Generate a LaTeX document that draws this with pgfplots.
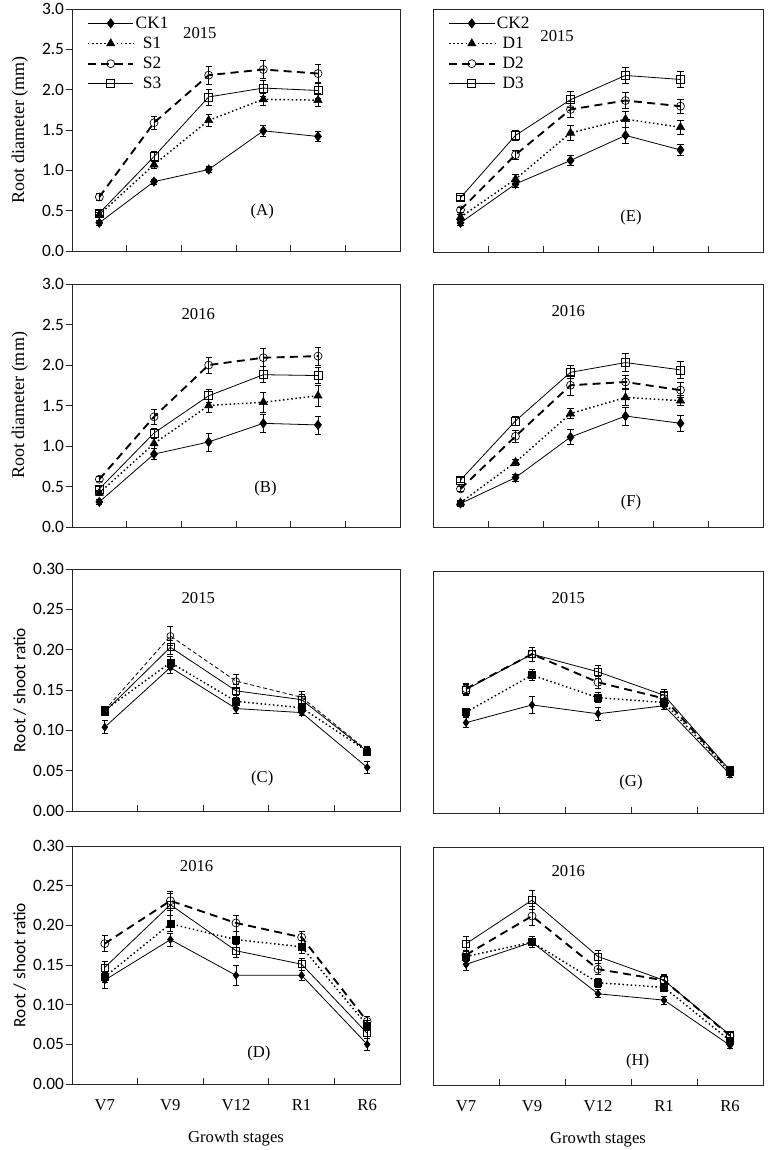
\documentclass[border=0pt]{standalone}
\usepackage{pgfplots}
\pgfplotsset{compat=1.18}
\usepackage{pgfplotstable}
\usepackage{fontspec}
\setmainfont{Liberation Serif}
\newfontfamily\calfont{Carlito}

\pgfplotstableread{
x ck eck s1 es1 s2 es2 s3 es3
1 0.35 0.03 0.45 0.03 0.67 0.04 0.47 0.03
2 0.86 0.03 1.07 0.04 1.59 0.08 1.17 0.06
3 1.01 0.04 1.62 0.08 2.18 0.11 1.91 0.10
4 1.49 0.07 1.88 0.08 2.25 0.11 2.02 0.10
5 1.42 0.06 1.87 0.08 2.20 0.12 1.99 0.10
}\tabA
\pgfplotstableread{
x ck eck s1 es1 s2 es2 s3 es3
1 0.36 0.03 0.43 0.03 0.52 0.03 0.67 0.03
2 0.84 0.04 0.90 0.06 1.20 0.06 1.44 0.06
3 1.13 0.06 1.47 0.09 1.76 0.10 1.88 0.10
4 1.44 0.10 1.64 0.10 1.87 0.10 2.18 0.10
5 1.26 0.07 1.54 0.09 1.80 0.09 2.13 0.10
}\tabE
\pgfplotstableread{
x ck eck s1 es1 s2 es2 s3 es3
1 0.31 0.03 0.42 0.03 0.59 0.03 0.47 0.03
2 0.90 0.07 1.03 0.06 1.36 0.09 1.16 0.06
3 1.05 0.11 1.50 0.08 2.00 0.10 1.62 0.08
4 1.28 0.11 1.54 0.12 2.09 0.11 1.88 0.10
5 1.26 0.11 1.62 0.13 2.11 0.11 1.87 0.10
}\tabB
\pgfplotstableread{
x ck eck s1 es1 s2 es2 s3 es3
1 0.29 0.03 0.30 0.03 0.47 0.03 0.58 0.03
2 0.61 0.04 0.80 0.04 1.12 0.07 1.31 0.06
3 1.11 0.09 1.40 0.06 1.75 0.12 1.91 0.08
4 1.37 0.11 1.60 0.10 1.79 0.08 2.03 0.11
5 1.28 0.10 1.56 0.06 1.69 0.09 1.94 0.11
}\tabF
\pgfplotstableread{
x ck eck s1 es1 s2 es2 s3 es3
1 0.104 0.008 0.125 0.005 0.125 0.004 0.123 0.004
2 0.178 0.007 0.184 0.008 0.217 0.012 0.203 0.009
3 0.127 0.006 0.136 0.008 0.161 0.009 0.149 0.008
4 0.122 0.004 0.128 0.004 0.141 0.007 0.138 0.007
5 0.054 0.007 0.074 0.005 0.075 0.005 0.074 0.005
}\tabC
\pgfplotstableread{
x ck eck s1 es1 s2 es2 s3 es3
1 0.112 0.006 0.125 0.005 0.154 0.007 0.153 0.007
2 0.134 0.011 0.171 0.007 0.197 0.009 0.197 0.009
3 0.123 0.008 0.143 0.006 0.162 0.008 0.175 0.008
4 0.133 0.005 0.137 0.005 0.142 0.007 0.146 0.007
5 0.048 0.004 0.051 0.004 0.052 0.004 0.053 0.004
}\tabG
\pgfplotstableread{
x ck eck s1 es1 s2 es2 s3 es3
1 0.131 0.010 0.135 0.007 0.177 0.010 0.147 0.008
2 0.182 0.008 0.202 0.010 0.231 0.012 0.226 0.014
3 0.137 0.012 0.182 0.010 0.203 0.010 0.168 0.008
4 0.137 0.006 0.173 0.008 0.185 0.008 0.151 0.008
5 0.050 0.008 0.074 0.006 0.079 0.006 0.064 0.006
}\tabD
\pgfplotstableread{
x ck eck s1 es1 s2 es2 s3 es3
1 0.152 0.008 0.162 0.006 0.164 0.006 0.178 0.010
2 0.180 0.007 0.180 0.007 0.213 0.012 0.233 0.012
3 0.115 0.005 0.129 0.006 0.146 0.007 0.162 0.008
4 0.107 0.005 0.123 0.005 0.132 0.006 0.132 0.007
5 0.050 0.004 0.056 0.004 0.062 0.004 0.063 0.004
}\tabH

\pgfplotsset{
  base/.style={scale only axis, xmin=0.5,
    axis line style={line width=0.6pt, black!85},
    tick style={line width=0.6pt, black!85},
    tick align=inside, major tick length=4.5pt,
    y tick style={xshift=-4.5pt},
    xtick pos=bottom, ytick pos=left,
    ymin=0,
    error bars/y dir=both, error bars/y explicit,
    error bars/error bar style={solid, line width=0.5pt, black},
    error bars/error mark options={solid, rotate=90, mark size=2.3pt, line width=0.5pt, black},
    yticklabel style={font=\calfont\fontsize{13}{15}\selectfont, xshift=-2.5pt},
    /pgf/number format/assume math mode=true,
    clip=false,
  },
  top/.style={base, xmax=6.5, xtick={1.5,2.5,3.5,4.5,5.5}, xticklabels={},
    ymax=3, ytick={0,0.5,...,3.0},
    yticklabel style={/pgf/number format/.cd, fixed, fixed zerofill, precision=1}},
  bot/.style={base, xmax=5.5, xtick={1.5,2.5,3.5,4.5}, xticklabels={},
    ymax=0.30, ytick={0,0.05,0.10,0.15,0.20,0.25,0.30},
    yticklabel style={/pgf/number format/.cd, fixed, fixed zerofill, precision=2}},
  labx/.style={extra x ticks={1,2,3,4,5}, extra x tick labels={V7,V9,V12,R1,R6},
    extra x tick style={tick style={draw=none}, xticklabel style={font=\fontsize{12.5}{14}\selectfont, yshift=-8pt}},
    xlabel={Growth stages}, xlabel style={at={(axis description cs:0.5,-0.228)}, anchor=center, font=\fontsize{12.5}{14}\selectfont}},
  noy/.style={ytick=\empty},
  ckst/.style={black, solid, line width=0.6pt, mark=diamond*, mark options={solid, fill=black}, mark size=3.4pt},
  s1st/.style={black, line width=1.1pt, dotted, mark=triangle*, mark options={solid, fill=black, line width=0.4pt}, mark size=3.6pt},
  s1bst/.style={black, line width=1.1pt, dotted, mark=square*, mark options={solid, fill=black, line width=0.4pt}, mark size=2.6pt},
  s2st/.style={black, line width=1.4pt, dash pattern=on 6pt off 4pt, mark=o, mark options={solid, fill=white, line width=0.5pt}, mark size=3pt},
  s2cst/.style={black, line width=0.6pt, dash pattern=on 3pt off 2pt, mark=o, mark options={solid, fill=white, line width=0.5pt}, mark size=2.6pt},
  s3st/.style={black, solid, line width=0.6pt, mark=square, mark options={solid, fill=white, line width=0.5pt}, mark size=3pt},
  s3bst/.style={black, solid, line width=0.6pt, mark=square, mark options={solid, fill=white, line width=0.5pt}, mark size=2.6pt},
  ckbst/.style={black, solid, line width=0.6pt, mark=diamond*, mark options={solid, fill=black}, mark size=2.8pt},
  rdlab/.style={ylabel={Root diameter (mm)}, ylabel style={at={(axis description cs:-0.159,0.5)}, anchor=center, font=\fontsize{13.5}{15}\selectfont}},
  rslab/.style={ylabel={Root / shoot ratio}, ylabel style={at={(axis description cs:-0.159,0.5)}, anchor=center, font=\calfont\fontsize{13}{15}\selectfont}},
  leg/.style={legend style={at={(axis description cs:0.045,0.975)}, anchor=north west, draw=none, fill=none,
     font=\fontsize{13}{14}\selectfont, row sep=3pt, inner sep=0pt, nodes={inner sep=1pt}},
     legend image code/.code={\draw[mark repeat=2,mark phase=2] plot coordinates {(0cm,0cm) (0.6cm,0cm) (1.2cm,0cm)};}},
}
\newcommand\yr[3]{\node[font=\fontsize{12.5}{14}\selectfont] at (rel axis cs:#1,#2) {#3};}

\begin{document}
\begin{tikzpicture}
% A
\begin{axis}[top, rdlab, leg, width=246pt, height=181.5pt, at={(54pt,-188.25pt)}, anchor=south west]
\addplot[ckst] table[x=x,y=ck,y error=eck]{\tabA};
\addplot[s1st] table[x=x,y=s1,y error=es1]{\tabA};
\addplot[s2st] table[x=x,y=s2,y error=es2]{\tabA};
\addplot[s3st] table[x=x,y=s3,y error=es3]{\tabA};
\legend{CK1,S1,S2,S3}
\yr{0.39}{0.9}{2015}
\yr{0.58}{0.165}{(A)}
\end{axis}
% E
\begin{axis}[top, noy, leg, width=247.5pt, height=182.25pt, at={(324.75pt,-189pt)}, anchor=south west]
\addplot[ckst] table[x=x,y=ck,y error=eck]{\tabE};
\addplot[s1st] table[x=x,y=s1,y error=es1]{\tabE};
\addplot[s2st] table[x=x,y=s2,y error=es2]{\tabE};
\addplot[s3st] table[x=x,y=s3,y error=es3]{\tabE};
\legend{CK2,D1,D2,D3}
\yr{0.376}{0.89}{2015}
\yr{0.60}{0.144}{(E)}
\end{axis}
% B
\begin{axis}[top, rdlab, width=246pt, height=182.25pt, at={(54pt,-395.25pt)}, anchor=south west]
\addplot[ckst] table[x=x,y=ck,y error=eck]{\tabB};
\addplot[s1st] table[x=x,y=s1,y error=es1]{\tabB};
\addplot[s2st] table[x=x,y=s2,y error=es2]{\tabB};
\addplot[s3st] table[x=x,y=s3,y error=es3]{\tabB};
\yr{0.385}{0.877}{2016}
\yr{0.59}{0.16}{(B)}
\end{axis}
% F
\begin{axis}[top, noy, width=247.5pt, height=182.25pt, at={(324.75pt,-395.25pt)}, anchor=south west]
\addplot[ckst] table[x=x,y=ck,y error=eck]{\tabF};
\addplot[s1st] table[x=x,y=s1,y error=es1]{\tabF};
\addplot[s2st] table[x=x,y=s2,y error=es2]{\tabF};
\addplot[s3st] table[x=x,y=s3,y error=es3]{\tabF};
\yr{0.41}{0.89}{2016}
\yr{0.60}{0.10}{(F)}
\end{axis}
% C
\begin{axis}[bot, rslab, width=246pt, height=181.5pt, at={(54pt,-608.25pt)}, anchor=south west]
\addplot[ckbst] table[x=x,y=ck,y error=eck]{\tabC};
\addplot[s1bst] table[x=x,y=s1,y error=es1]{\tabC};
\addplot[s2cst] table[x=x,y=s2,y error=es2]{\tabC};
\addplot[s3bst] table[x=x,y=s3,y error=es3]{\tabC};
\yr{0.385}{0.88}{2015}
\yr{0.58}{0.135}{(C)}
\end{axis}
% G
\begin{axis}[bot, noy, width=247.5pt, height=181.5pt, at={(324.75pt,-609.75pt)}, anchor=south west]
\addplot[ckbst] table[x=x,y=ck,y error=eck]{\tabG};
\addplot[s1bst] table[x=x,y=s1,y error=es1]{\tabG};
\addplot[s2st] table[x=x,y=s2,y error=es2]{\tabG};
\addplot[s3bst] table[x=x,y=s3,y error=es3]{\tabG};
\yr{0.41}{0.89}{2015}
\yr{0.60}{0.125}{(G)}
\end{axis}
% D
\begin{axis}[bot, rslab, labx, width=246pt, height=178.5pt, at={(54pt,-813pt)}, anchor=south west]
\addplot[ckbst] table[x=x,y=ck,y error=eck]{\tabD};
\addplot[s1bst] table[x=x,y=s1,y error=es1]{\tabD};
\addplot[s2st] table[x=x,y=s2,y error=es2]{\tabD};
\addplot[s3bst] table[x=x,y=s3,y error=es3]{\tabD};
\yr{0.38}{0.916}{2016}
\yr{0.57}{0.13}{(D)}
\end{axis}
% H
\begin{axis}[bot, noy, labx, width=247.5pt, height=178.5pt, at={(324.75pt,-813.75pt)}, anchor=south west]
\addplot[ckbst] table[x=x,y=ck,y error=eck]{\tabH};
\addplot[s1bst] table[x=x,y=s1,y error=es1]{\tabH};
\addplot[s2st] table[x=x,y=s2,y error=es2]{\tabH};
\addplot[s3bst] table[x=x,y=s3,y error=es3]{\tabH};
\yr{0.41}{0.90}{2016}
\yr{0.62}{0.097}{(H)}
\end{axis}
\pgfresetboundingbox
\path (0pt,0pt) rectangle (577.5pt,-862.5pt);
\end{tikzpicture}
\end{document}
